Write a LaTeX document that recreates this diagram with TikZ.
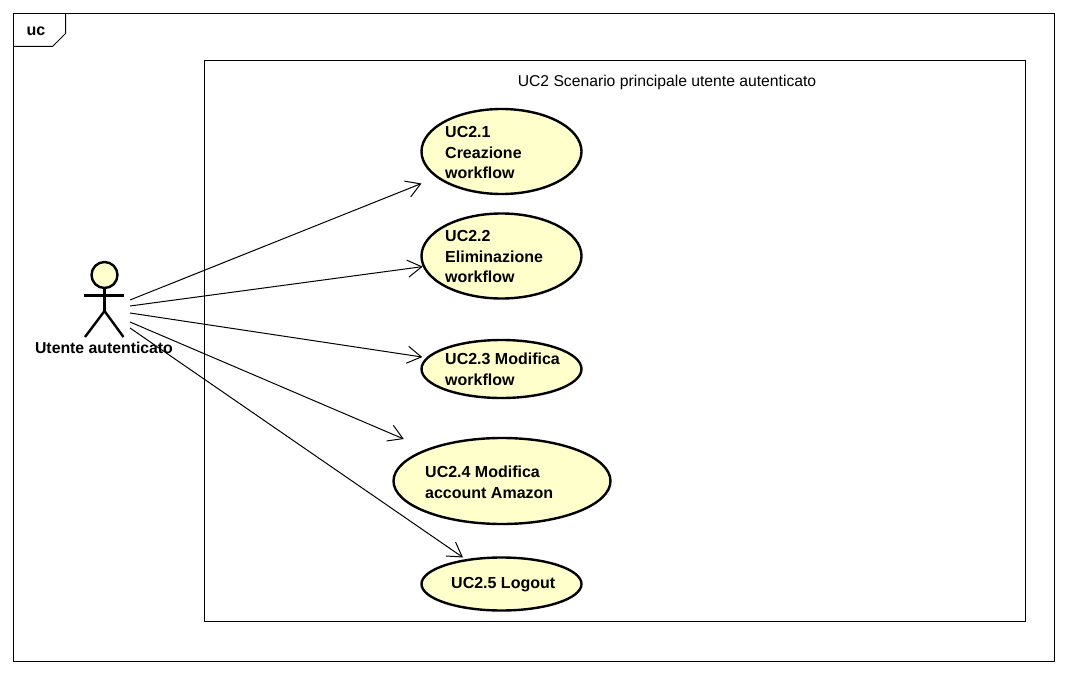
\documentclass[tikz,border=0pt]{standalone}
\usepackage{fontspec}
\setmainfont{Liberation Sans}
\usetikzlibrary{shapes.geometric,arrows.meta}
\definecolor{ucfill}{HTML}{FFFFCC}
\tikzset{
  x=1pt,y=-1pt,
  frameline/.style={draw=black,line width=1pt},
  usecase/.style={ellipse,draw=black,line width=2.4pt,fill=ucfill,inner sep=0pt},
  uctext/.style={anchor=west,align=left,inner sep=0pt,font=\fontsize{16}{20.5}\selectfont\bfseries},
  assoc/.style={draw=black,line width=1pt,-{Straight Barb[length=14pt,width=17pt,line width=1pt]}},
  stick/.style={draw=black,line width=2.4pt},
}
\begin{document}
\begin{tikzpicture}
\useasboundingbox (0,0) rectangle (1068,674);
\fill[white] (0,0) rectangle (1068,674);
% outer frame
\draw[frameline] (13.5,13.5) rectangle (1054.5,661.5);
\draw[frameline] (13.5,46.5) -- (52.5,46.5) -- (65.5,33.5) -- (65.5,13.5);
\node[inner sep=0pt,font=\fontsize{16}{18}\selectfont\bfseries] (frametag) at (36,31.5) {uc};
% system boundary
\draw[frameline] (204.5,60.5) rectangle (1025.5,621.5);
\node[inner sep=0pt,font=\fontsize{15.7}{18}\selectfont] (systitle) at (667,82) {UC2 Scenario principale utente autenticato};
% use cases
\node[usecase,minimum width=160pt,minimum height=85pt] (uc1) at (501.5,151.5) {};
\node[usecase,minimum width=160pt,minimum height=85pt] (uc2) at (501.5,256) {};
\node[usecase,minimum width=160pt,minimum height=58pt] (uc3) at (501.5,369) {};
\node[usecase,minimum width=217pt,minimum height=86pt] (uc4) at (502,481) {};
\node[usecase,minimum width=160pt,minimum height=53pt] (uc5) at (501.5,584) {};
\node[uctext] (t1) at (445,152.5) {UC2.1\\Creazione\\workflow};
\node[uctext] (t2) at (445,256.5) {UC2.2\\Eliminazione\\workflow};
\node[uctext] (t3) at (445,369.5) {UC2.3 Modifica\\workflow};
\node[uctext] (t4) at (425,482.5) {UC2.4 Modifica\\account Amazon};
\node[uctext] (t5) at (451,585) {UC2.5 Logout};
% actor
\node[circle,draw=black,line width=2.4pt,fill=ucfill,minimum size=26pt,inner sep=0pt] (head) at (104.5,275) {};
\coordinate (hip) at (104.5,311);
\coordinate (armL) at (84,295.5);
\coordinate (armR) at (124,295.5);
\coordinate (legL) at (85,337);
\coordinate (legR) at (123.5,337);
\draw[stick] (head) -- (hip);
\draw[stick] (armL) -- (armR);
\draw[stick] (legL) -- (hip) -- (legR);
\node[inner sep=0pt,font=\fontsize{15.8}{18}\selectfont\bfseries] (actorname) at (104,347.5) {Utente autenticato};
% connectors
\coordinate (s1) at (130,300);
\coordinate (s2) at (130,306);
\coordinate (s3) at (130,313);
\coordinate (s4) at (130,322);
\coordinate (s5) at (130,328);
\draw[assoc,shorten >=16pt] (s1) -- (uc1);
\draw[assoc] (s2) -- (uc2);
\draw[assoc,shorten >=4pt] (s3) -- (uc3);
\draw[assoc,shorten >=25pt] (s4) -- (uc4);
\draw[assoc,shorten >=3pt] (s5) -- (uc5);
\end{tikzpicture}
\end{document}
